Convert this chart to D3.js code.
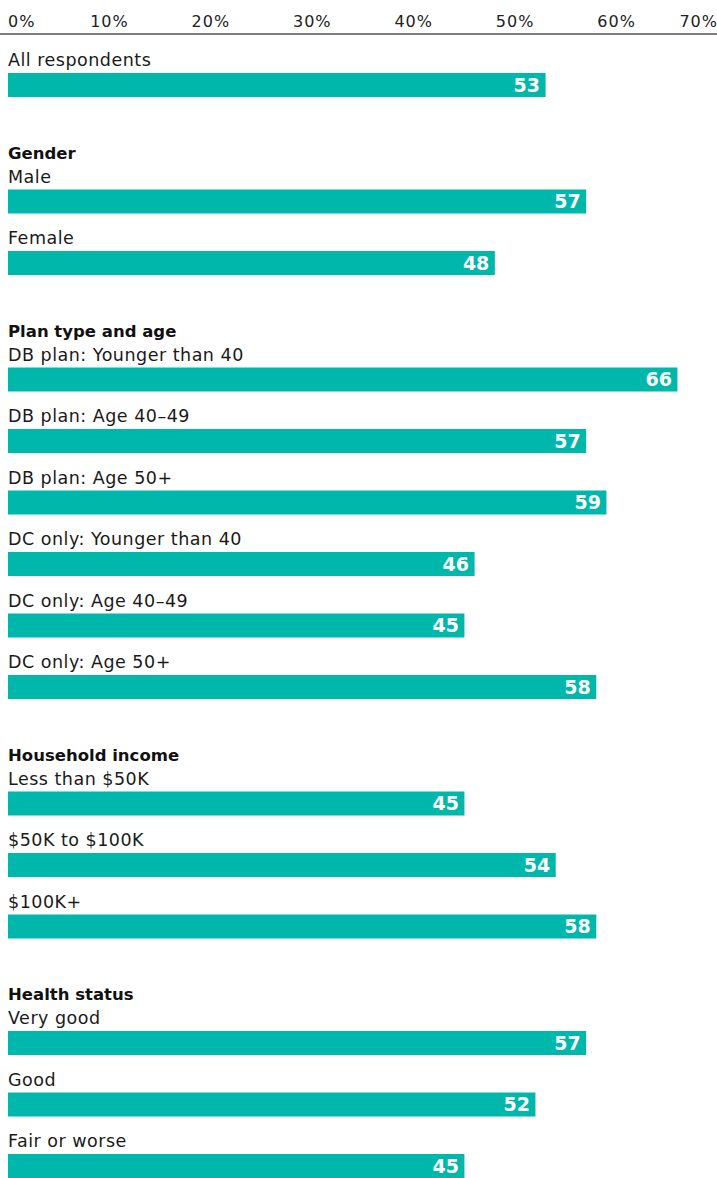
<!DOCTYPE html>
<html>
<head>
<meta charset="utf-8">
<script src="https://cdn.jsdelivr.net/npm/d3@7"></script>
<style>
  html, body { margin: 0; padding: 0; background: #fff; }
  svg { display: block; }
  .lbl { font-family: "DejaVu Sans", sans-serif; font-size: 17.5px; letter-spacing: 0.5px; fill: #1a1a1a; }
  .hdr { font-family: "DejaVu Sans", sans-serif; font-weight: bold; font-size: 16.5px; fill: #111; }
  .tick { font-family: "DejaVu Sans", sans-serif; font-size: 16px; letter-spacing: 1px; fill: #222; }
  .val { font-family: "DejaVu Sans", sans-serif; font-weight: bold; font-size: 19px; fill: #fff; }
</style>
</head>
<body>
<svg id="chart"></svg>
<script>
// Share of respondents, by group (%)
const groups = ["", "Gender", "Plan type and age", "Household income", "Health status"];
const categories = [
  "All respondents",
  "Male", "Female",
  "DB plan: Younger than 40", "DB plan: Age 40\u201349", "DB plan: Age 50+",
  "DC only: Younger than 40", "DC only: Age 40\u201349", "DC only: Age 50+",
  "Less than $50K", "$50K to $100K", "$100K+",
  "Very good", "Good", "Fair or worse"
];
const categoryGroup = [0, 1, 1, 2, 2, 2, 2, 2, 2, 3, 3, 3, 4, 4, 4];
const values = [53, 57, 48, 66, 57, 59, 46, 45, 58, 45, 54, 58, 57, 52, 45];
const tickValues = [0, 10, 20, 30, 40, 50, 60, 70];

const W = 717, H = 1178;
const svg = d3.select("#chart").attr("width", W).attr("height", H);

const x = d3.scaleLinear().domain([0, 70]).range([8, 718]);

// Vertical layout: a fixed step per row plus extra room for each group heading
const rowStep = 61.5, groupGap = 55, firstTop = 73, barH = 24;
const yRow = d3.scaleLinear().domain([0, 1]).range([firstTop, firstTop + rowStep]);
const barTop = i => yRow(i) + categoryGroup[i] * groupGap;

const rows = categories.map((c, i) => ({ name: c, value: values[i], group: categoryGroup[i], i }));

// Top axis
const axisY = 34;
svg.append("line")
  .attr("x1", 0).attr("x2", W)
  .attr("y1", axisY).attr("y2", axisY)
  .attr("stroke", "#555").attr("stroke-width", 1.5);

svg.selectAll("text.tick").data(tickValues).join("text")
  .attr("class", "tick")
  .attr("x", (d, i) => i === tickValues.length - 1 ? W + 1 : x(d))
  .attr("y", 26.5)
  .attr("text-anchor", (d, i) => i === 0 ? "start" : (i === tickValues.length - 1 ? "end" : "middle"))
  .text(d => d + "%");

// Group headings
const firstOfGroup = groups.map((g, gi) => categoryGroup.indexOf(gi));
svg.selectAll("text.hdr").data(groups.map((g, gi) => ({ g, i: firstOfGroup[gi] })).filter(d => d.g))
  .join("text")
  .attr("class", "hdr")
  .attr("x", 8)
  .attr("y", d => barTop(d.i) - 7 - 24)
  .text(d => d.g);

// Category labels
svg.selectAll("text.lbl").data(rows).join("text")
  .attr("class", "lbl")
  .attr("x", 8)
  .attr("y", d => barTop(d.i) - 7)
  .text(d => d.name);

// Bars
svg.selectAll("rect.bar").data(rows).join("rect")
  .attr("class", "bar")
  .attr("x", x(0))
  .attr("y", d => barTop(d.i))
  .attr("width", d => x(d.value) - x(0))
  .attr("height", barH)
  .attr("fill", "#00b7ab");

// Value labels inside bar ends
svg.selectAll("text.val").data(rows).join("text")
  .attr("class", "val")
  .attr("x", d => x(d.value) - 5.5)
  .attr("y", d => barTop(d.i) + 18.5)
  .attr("text-anchor", "end")
  .text(d => d.value);
</script>
</body>
</html>
